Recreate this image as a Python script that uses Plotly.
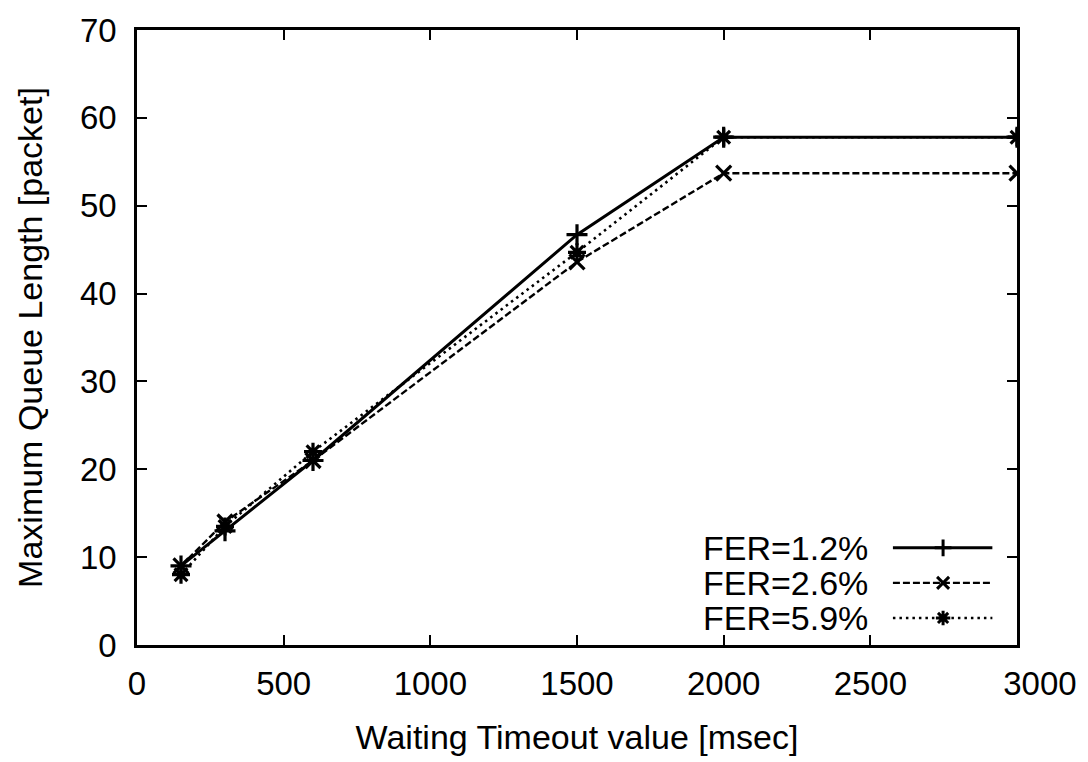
import plotly.graph_objects as go

timeout = [150, 300, 600, 1500, 2000, 3000]
fer12 = [9.0, 13.0, 21.0, 46.7, 57.8, 57.8]
fer26 = [9.0, 14.0, 21.0, 43.6, 53.7, 53.7]
fer59 = [8.0, 13.5, 22.0, 44.7, 57.8, 57.8]
names = ["FER=1.2%", "FER=2.6%", "FER=5.9%"]
x_ticks = [0, 500, 1000, 1500, 2000, 2500, 3000]
x_ticktext = ["0", "500", "1000", "1500", "2000", "2500", "\u00a0\u00a0\u00a0\u00a0\u00a03000"]
y_ticks = [0, 10, 20, 30, 40, 50, 60, 70]

FONT = "Liberation Sans, Arial, sans-serif"
series = [
    (fer12, "solid", "cross-thin-open", 3.0),
    (fer26, "7px,3px", "x-thin-open", 2.4),
    (fer59, "2.5px,4px", "asterisk-open", 2.6),
]

fig = go.Figure()
for (vals, dash, sym, w), nm in zip(series, names):
    fig.add_trace(go.Scatter(
        x=timeout, y=vals, mode="lines+markers", name=nm,
        line=dict(color="black", width=w, dash=dash),
        marker=dict(symbol=sym, size=15, color="black", line=dict(width=3.2, color="black")),
        showlegend=False,
    ))

# manual legend (text on left, sample on right), placed in a hidden overlay axis
leg_y = [0.158, 0.101, 0.044]
for (vals, dash, sym, w), nm, ly in zip(series, names, leg_y):
    fig.add_trace(go.Scatter(
        x=[0.859, 0.916, 0.972], y=[ly, ly, ly], xaxis="x2", yaxis="y2",
        mode="lines", line=dict(color="black", width=w, dash=dash),
        showlegend=False, hoverinfo="skip",
    ))
    fig.add_trace(go.Scatter(
        x=[0.916], y=[ly], xaxis="x2", yaxis="y2", mode="markers",
        marker=dict(symbol=sym, size=12, color="black", line=dict(width=3, color="black")),
        showlegend=False, hoverinfo="skip",
    ))
    fig.add_annotation(x=0.833, y=ly, xref="x2", yref="y2", text=nm, showarrow=False,
                       xanchor="right", yanchor="middle",
                       font=dict(family=FONT, size=34, color="black"))

axis_common = dict(
    showline=True, linecolor="black", linewidth=2.5, mirror="ticks",
    ticks="inside", ticklen=10, tickwidth=2, tickcolor="black",
    showgrid=False, zeroline=False,
    tickfont=dict(family=FONT, size=33, color="black"),
)
fig.update_layout(
    width=1088, height=762,
    margin=dict(l=137, r=71, t=30, b=117),
    paper_bgcolor="white", plot_bgcolor="white",
    xaxis=dict(range=[0, 3000], tickvals=x_ticks, ticktext=x_ticktext,
               title=dict(text="Waiting Timeout value [msec]", standoff=24,
                          font=dict(family=FONT, size=34, color="black")),
               ticklabelstandoff=8, **axis_common),
    yaxis=dict(range=[0, 70], tickvals=y_ticks, ticktext=[str(v) for v in y_ticks],
               title=dict(text="Maximum Queue Length [packet]", standoff=28,
                          font=dict(family=FONT, size=34, color="black")),
               ticklabelstandoff=11, **axis_common),
    xaxis2=dict(range=[0, 1], overlaying="x", visible=False, fixedrange=True),
    yaxis2=dict(range=[0, 1], overlaying="y", visible=False, fixedrange=True),
)
fig.write_html("out.html")
